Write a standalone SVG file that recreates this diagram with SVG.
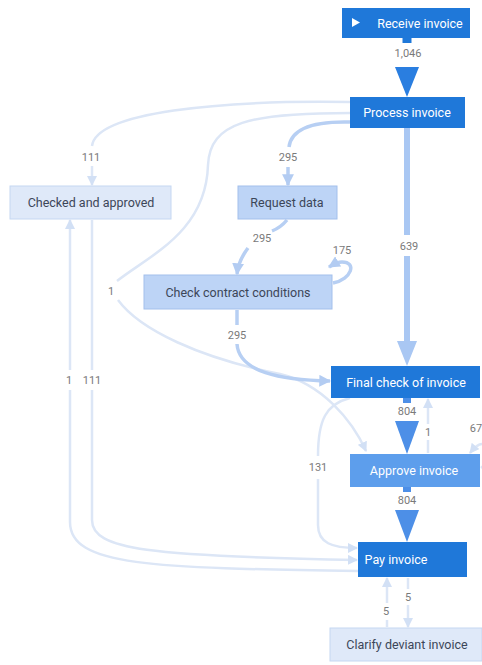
<svg xmlns="http://www.w3.org/2000/svg" width="482" height="665" viewBox="0 0 482 665">
  <style>
    .dark rect { fill: #1f78d9; }
    .mid rect { fill: #5d9eec; }
    .soft rect { fill: #bdd4f6; stroke: #a3c0ec; stroke-width: 1; }
    .pale rect { fill: #dfe9f9; stroke: #c5d7f2; stroke-width: 1; }
    .node text { font-family: Roboto, "Liberation Sans", sans-serif; font-size: 12.5px; text-anchor: middle; dominant-baseline: central; }
    .dark text, .mid text { fill: #ffffff; }
    .soft text, .pale text { fill: #3c4658; }
    .lbl { font-family: Roboto, "Liberation Sans", sans-serif; font-size: 11px; fill: #7a7a7a; text-anchor: middle; dominant-baseline: central; }
    .thin { fill: none; stroke: #dce6f6; stroke-width: 2.5; }
    .med { fill: none; stroke: #b7cff3; stroke-width: 3.5; }
  </style>
  <defs>
    <marker id="aThin" viewBox="0 0 10 10" refX="9" refY="5" markerWidth="4" markerHeight="4" orient="auto" markerUnits="strokeWidth">
      <path d="M0,0 L10,5 L0,10 z" fill="#d2e0f5"/>
    </marker>
    <marker id="aMed" viewBox="0 0 10 10" refX="9" refY="5" markerWidth="3.4" markerHeight="3.4" orient="auto" markerUnits="strokeWidth">
      <path d="M0,0 L10,5 L0,10 z" fill="#b3ccf2"/>
    </marker>
  </defs>

  <!-- connectors -->
  <g id="connectors">
    <!-- Process invoice -> Checked and approved (111) -->
    <path class="thin" d="M350,102 C220,100 96,112 92,146"/>
    <path class="thin" d="M92,166 L92,185" marker-end="url(#aThin)"/>
    <text class="lbl" x="91" y="157">111</text>

    <!-- Process invoice -> Approve invoice (1) -->
    <path class="thin" d="M350,113 C250,113 210,122 208,165 C206,232 150,255 117,281"/>
    <path class="thin" d="M118,300 C140,330 200,358 280,374 C322,384 352,420 366,451" marker-end="url(#aThin)"/>
    <text class="lbl" x="111" y="291">1</text>

    <!-- Process invoice -> Request data (295) -->
    <path class="med" d="M350,122 C310,121 291,130 289,147"/>
    <path class="med" d="M288,167 L288,185" marker-end="url(#aMed)"/>
    <text class="lbl" x="288" y="157">295</text>

    <!-- Request data -> Check contract conditions (295) -->
    <path class="med" d="M287,220 C282,226 277,229 272,231"/>
    <path class="med" d="M248,248 C242,256 238,264 237,274" marker-end="url(#aMed)"/>
    <text class="lbl" x="262" y="238">295</text>

    <!-- Check contract conditions self loop (175) -->
    <path class="med" d="M333,283 C352,279 357,262 342,262 C338,262 334,264 329,267" marker-end="url(#aMed)"/>
    <text class="lbl" x="342" y="250">175</text>

    <!-- Check contract conditions -> Final check of invoice (295) -->
    <path class="med" d="M237,310 L237,325"/>
    <path class="med" d="M237,344 C239,372 280,380 330,381" marker-end="url(#aMed)"/>
    <text class="lbl" x="237" y="335">295</text>

    <!-- Process invoice -> Final check of invoice (639) -->
    <path fill="none" stroke="#a9c7f3" stroke-width="6" d="M407,128 L407,235"/>
    <path fill="none" stroke="#a9c7f3" stroke-width="6" d="M407,256 L407,342"/>
    <path fill="#a9c7f3" d="M397,341 L417,341 L407,366 z"/>
    <text class="lbl" x="409" y="246">639</text>

    <!-- Receive invoice -> Process invoice (1,046) -->
    <path fill="none" stroke="#1f78d9" stroke-width="9" d="M407,37 L407,43"/>
    <path fill="#2a7ee0" d="M395,67 L419,67 L407,97 z"/>
    <text class="lbl" x="408" y="53">1,046</text>

    <!-- Final check of invoice -> Approve invoice (804) -->
    <path fill="none" stroke="#4d8fe7" stroke-width="8" d="M407,398 L407,403"/>
    <path fill="#4d8fe7" d="M395,421 L419,421 L407,454 z"/>
    <text class="lbl" x="407" y="411">804</text>

    <!-- Approve invoice -> Final check of invoice (1) -->
    <path class="thin" d="M428,453 L428,440"/>
    <path class="thin" d="M428,424 L428,399" marker-end="url(#aThin)"/>
    <text class="lbl" x="428" y="432">1</text>

    <!-- Approve invoice self loop (67) -->
    <path class="thin" d="M481,468 C490,460 490,446 482,444 C478,444 474,448 470,453" marker-end="url(#aThin)"/>
    <text class="lbl" x="476" y="428">67</text>

    <!-- Approve invoice -> Pay invoice (804) -->
    <path fill="none" stroke="#4d8fe7" stroke-width="8" d="M407,487 L407,492"/>
    <path fill="#4d8fe7" d="M395,510 L419,510 L407,542 z"/>
    <text class="lbl" x="407" y="500">804</text>

    <!-- Final check of invoice -> Pay invoice (131) -->
    <path class="thin" d="M350,398 C326,404 318,420 318,456"/>
    <path class="thin" d="M318,479 L318,525 C318,543 332,548 357,548" marker-end="url(#aThin)"/>
    <text class="lbl" x="318" y="467">131</text>

    <!-- Checked and approved -> Pay invoice (111) -->
    <path class="thin" d="M92,220 L92,370"/>
    <path class="thin" d="M92,390 L92,520 C92,550 150,556 357,560" marker-end="url(#aThin)"/>
    <text class="lbl" x="92" y="380">111</text>

    <!-- Pay invoice -> Checked and approved (1) -->
    <path class="thin" d="M358,571 C150,568 70,566 70,522 L70,390"/>
    <path class="thin" d="M70,370 L70,220" marker-end="url(#aThin)"/>
    <text class="lbl" x="69" y="380">1</text>

    <!-- Pay invoice -> Clarify deviant invoice (5) -->
    <path class="thin" d="M408,578 L408,589"/>
    <path class="thin" d="M408,605 L408,627" marker-end="url(#aThin)"/>
    <text class="lbl" x="408" y="597">5</text>

    <!-- Clarify deviant invoice -> Pay invoice (5) -->
    <path class="thin" d="M387,627 L387,620"/>
    <path class="thin" d="M387,603 L387,578" marker-end="url(#aThin)"/>
    <text class="lbl" x="386" y="611">5</text>
  </g>

  <!-- nodes -->
  <g id="receive-invoice" class="node dark">
    <rect x="342" y="8" width="128" height="30"/>
    <path d="M352,18 L360,22.5 L352,27 z" fill="#ffffff"/>
    <text x="420" y="23">Receive invoice</text>
  </g>
  <g id="process-invoice" class="node dark">
    <rect x="350" y="97" width="115" height="31"/>
    <text x="407" y="112.5">Process invoice</text>
  </g>
  <g id="checked-and-approved" class="node pale">
    <rect x="10" y="186" width="161" height="33"/>
    <text x="91" y="202.5">Checked and approved</text>
  </g>
  <g id="request-data" class="node soft">
    <rect x="238" y="186" width="99" height="33"/>
    <text x="287" y="202.5">Request data</text>
  </g>
  <g id="check-contract-conditions" class="node soft">
    <rect x="144" y="275" width="188" height="34"/>
    <text x="238" y="292">Check contract conditions</text>
  </g>
  <g id="final-check-of-invoice" class="node dark">
    <rect x="331" y="366" width="149" height="32"/>
    <text x="406" y="382">Final check of invoice</text>
  </g>
  <g id="approve-invoice" class="node mid">
    <rect x="350" y="454" width="130" height="33"/>
    <text x="414" y="470.5">Approve invoice</text>
  </g>
  <g id="pay-invoice" class="node dark">
    <rect x="358" y="542" width="109" height="35"/>
    <text x="396" y="559.5">Pay invoice</text>
    <rect x="446" y="555" width="9" height="9" fill="#ffffff"/>
  </g>
  <g id="clarify-deviant-invoice" class="node pale">
    <rect x="330" y="628" width="152" height="33"/>
    <text x="407" y="644.5">Clarify deviant invoice</text>
  </g>
</svg>
